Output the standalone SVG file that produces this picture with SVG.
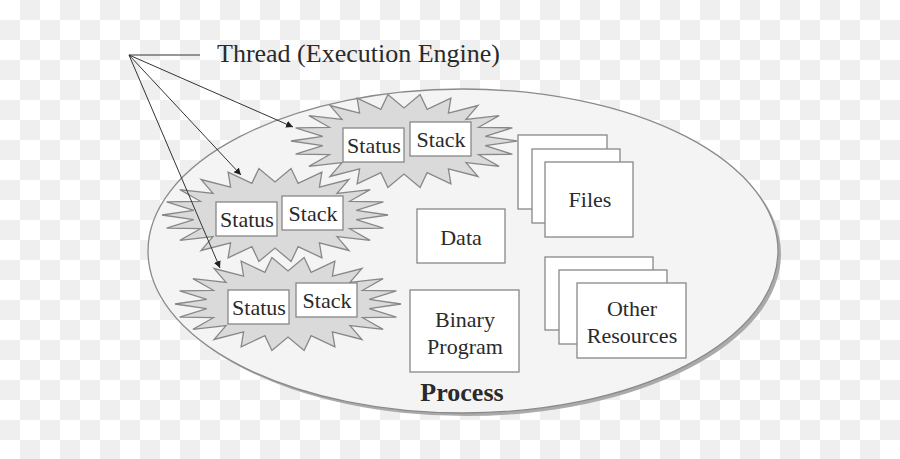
<svg xmlns="http://www.w3.org/2000/svg" width="900" height="459" viewBox="0 0 900 459">
<defs>
<pattern id="checker" width="40" height="40" patternUnits="userSpaceOnUse">
<rect width="40" height="40" fill="#ffffff"/>
<rect x="20" y="0" width="20" height="20" fill="#efefef"/>
<rect x="0" y="20" width="20" height="20" fill="#efefef"/>
</pattern>
<polygon id="burst" points="113,0 81.2,4.7 108.4,13.2 74.6,13.7 95.1,25.4 62,21.6 74,35.5 44.4,27.8 46.9,42.8 23.1,31.7 16.1,46.5 0,33 -16.1,46.5 -23.1,31.7 -46.9,42.8 -44.4,27.8 -74,35.5 -62,21.6 -95.1,25.4 -74.6,13.7 -108.4,13.2 -81.2,4.7 -113,0 -81.2,-4.7 -108.4,-13.2 -74.6,-13.7 -95.1,-25.4 -62,-21.6 -74,-35.5 -44.4,-27.8 -46.9,-42.8 -23.1,-31.7 -16.1,-46.5 0,-33 16.1,-46.5 23.1,-31.7 46.9,-42.8 44.4,-27.8 74,-35.5 62,-21.6 95.1,-25.4 74.6,-13.7 108.4,-13.2 81.2,-4.7"/>
<marker id="arr" viewBox="0 0 10 10" refX="10" refY="5" markerWidth="7" markerHeight="7" orient="auto" markerUnits="userSpaceOnUse">
<path d="M0,0 L10,5 L0,10 z" fill="#222"/>
</marker>
</defs>
<style>
.t{font-family:"Liberation Serif","Times New Roman",serif;fill:#2a2a2a;text-anchor:middle}
.box{fill:#fff;stroke:#888;stroke-width:1.3}
.burst{fill:#dadada;stroke:#888;stroke-width:1.3}
.conn{stroke:#333;stroke-width:1;fill:none}
</style>
<rect width="900" height="459" fill="url(#checker)"/>
<g id="process">
<ellipse cx="466" cy="254" rx="315" ry="162" fill="#aaaaaa"/>
<ellipse cx="463" cy="251" rx="315" ry="162" fill="#f4f4f4" stroke="#8a8a8a" stroke-width="1.3"/>
<text class="t" x="462" y="401" font-size="26" font-weight="bold">Process</text>
</g>
<g id="thread1">
<use href="#burst" class="burst" transform="translate(404,141)"/>
<rect class="box" x="343" y="128" width="61" height="34"/>
<text class="t" x="374" y="153" font-size="22">Status</text>
<rect class="box" x="410" y="122" width="61" height="34"/>
<text class="t" x="441" y="147" font-size="22">Stack</text>
</g>
<g id="thread2">
<use href="#burst" class="burst" transform="translate(275,215)"/>
<rect class="box" x="216" y="202" width="61" height="34"/>
<text class="t" x="247" y="227" font-size="22">Status</text>
<rect class="box" x="282" y="196" width="61" height="34"/>
<text class="t" x="313" y="221" font-size="22">Stack</text>
</g>
<g id="thread3">
<use href="#burst" class="burst" transform="translate(288,304)"/>
<rect class="box" x="228" y="290" width="61" height="34"/>
<text class="t" x="259" y="315" font-size="22">Status</text>
<rect class="box" x="296" y="283" width="61" height="34"/>
<text class="t" x="327" y="308" font-size="22">Stack</text>
</g>
<g id="data">
<rect class="box" x="417" y="209" width="88" height="54"/>
<text class="t" x="461" y="245" font-size="22">Data</text>
</g>
<g id="binary">
<rect class="box" x="410" y="290" width="109" height="82"/>
<text class="t" x="465" y="327" font-size="22">Binary</text>
<text class="t" x="465" y="354" font-size="22">Program</text>
</g>
<g id="files">
<rect class="box" x="518" y="135" width="89" height="74"/>
<rect class="box" x="532" y="149" width="88" height="74"/>
<rect class="box" x="545" y="162" width="88" height="75"/>
<text class="t" x="590" y="207" font-size="22">Files</text>
</g>
<g id="resources">
<rect class="box" x="545" y="257" width="108" height="73"/>
<rect class="box" x="559" y="270" width="108" height="74"/>
<rect class="box" x="577" y="283" width="109" height="75"/>
<text class="t" x="632" y="316" font-size="22">Other</text>
<text class="t" x="632" y="343" font-size="22">Resources</text>
</g>
<g id="label">
<text x="217" y="62" font-size="26" font-family="Liberation Serif, Times New Roman, serif" fill="#2a2a2a">Thread (Execution Engine)</text>
</g>
<g id="connectors">
<line class="conn" x1="129" y1="55" x2="200" y2="55"/>
<line class="conn" x1="129" y1="55" x2="293" y2="127" marker-end="url(#arr)"/>
<line class="conn" x1="129" y1="55" x2="241" y2="175" marker-end="url(#arr)"/>
<line class="conn" x1="129" y1="55" x2="220" y2="268" marker-end="url(#arr)"/>
</g>
</svg>
